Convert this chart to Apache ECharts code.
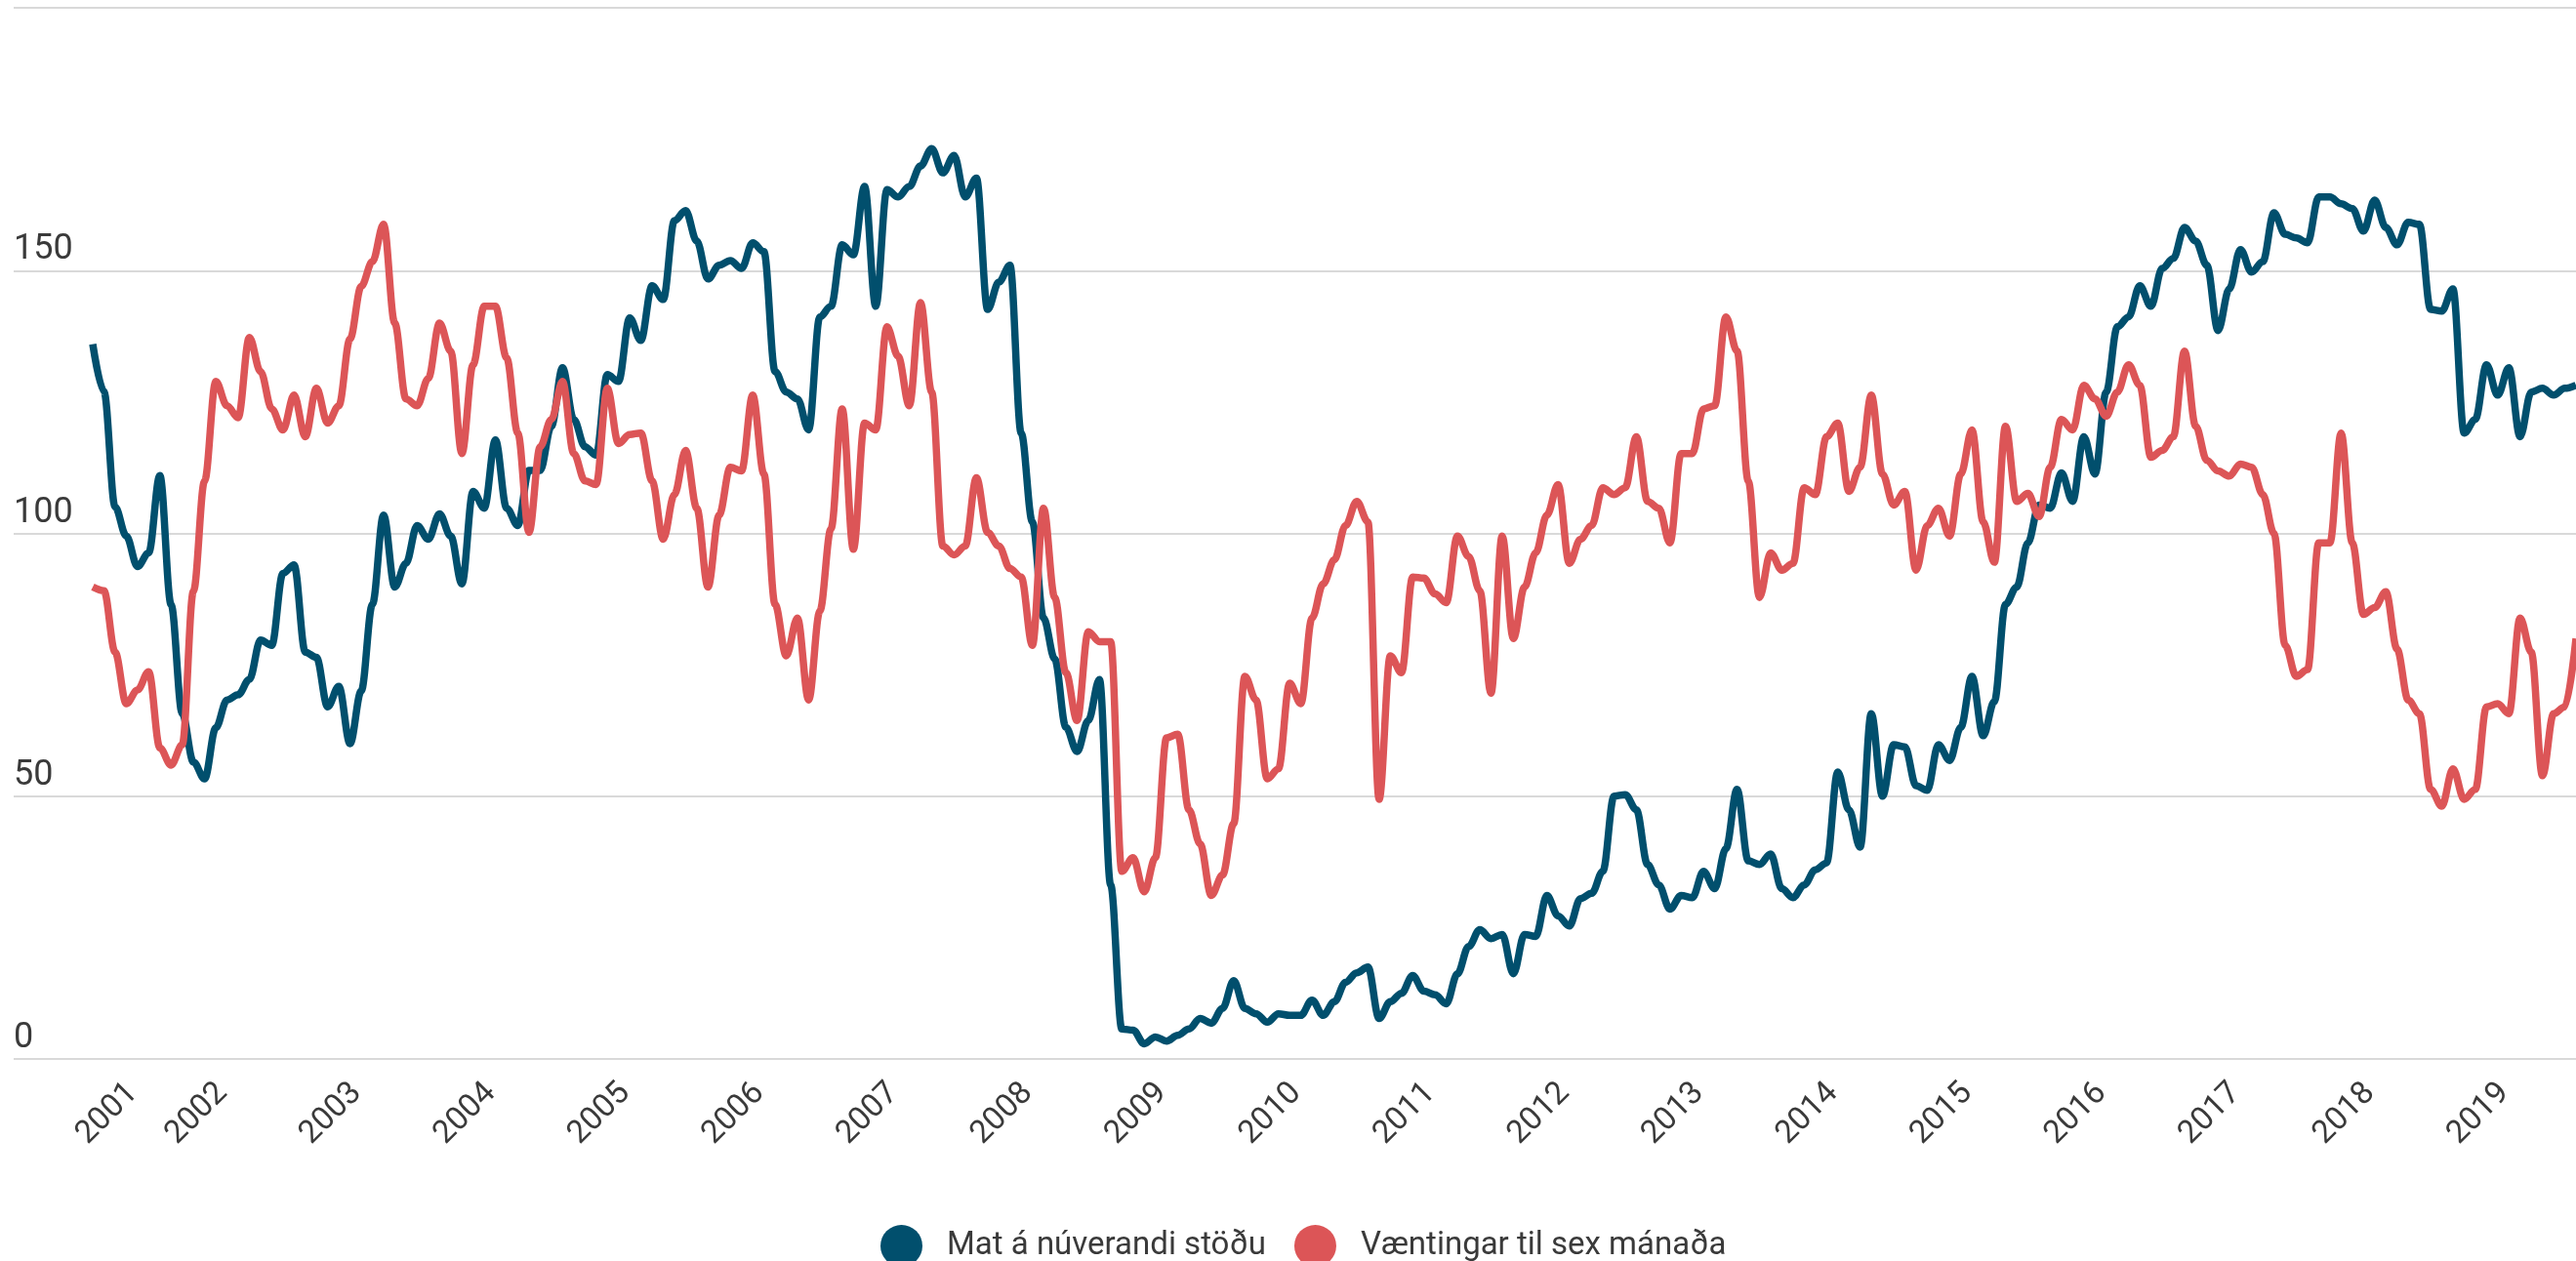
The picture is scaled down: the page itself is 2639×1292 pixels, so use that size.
<!DOCTYPE html>
<html>
<head>
<meta charset="utf-8">
<script src="https://cdn.jsdelivr.net/npm/echarts@6/dist/echarts.min.js"></script>
<style>
  html, body { margin: 0; padding: 0; background: #fff; }
  #chart { width: 2639px; height: 1292px; }
</style>
</head>
<body>
<div id="chart"></div>
<script>
// mánaðarleg gildi, fyrsti mánuður feb 2001
const firstYear = 2001;
const firstMonth = 2;

const matNuverandi = [
  136, 127, 105, 99.5, 93.7, 96.3, 111, 86.5, 65.7, 56.5, 53.3, 63, 68.3, 69.3, 72.2, 79.7, 78.7, 92.4, 94, 77.4, 76.4, 67, 70.9, 60, 70,
  86.5, 103.5, 89.8, 94.3, 101.5, 98.9, 103.7, 99.5, 90.4, 108, 104.8, 117.8, 104.8, 101.5, 112, 112, 120.4, 131.5, 121.7, 116.5, 114.9, 130.2, 128.9, 141,
  136.7, 147.1, 144.5, 159.5, 161.4, 155.6, 148.4, 151, 151.9, 150.4, 155.3, 153.6, 130.8, 126.9, 125.6, 119.7, 141.2, 143.2, 154.9, 153, 166, 143.2, 165.4, 164,
  166, 169.9, 173.2, 168.6, 171.9, 164, 167.6, 142.6, 147.8, 151, 119.1, 102.2, 83.9, 76.1, 63.1, 58.5, 64.4, 72.2, 33.1, 5.7, 5.5, 2.9, 4.2, 3.4, 4.5,
  5.7, 7.7, 6.8, 9.6, 14.9, 9.6, 8.6, 7, 8.6, 8.3, 8.3, 11.2, 8.3, 10.9, 14.6, 16.4, 17.5, 7.7, 10.9, 12.5, 15.9, 12.9, 12.2, 10.5,
  16.2, 21.4, 24.6, 22.9, 23.7, 16.2, 23.7, 23.3, 31.1, 27.2, 25.3, 30.5, 31.5, 35.7, 50, 50.3, 47.4, 37, 33.1, 28.5, 31.1, 30.7, 35.7, 32.4, 40,
  51.3, 37.7, 37, 39, 32.4, 30.7, 33.1, 36, 37.3, 54.6, 47.4, 40.3, 65.7, 50, 59.8, 59.4, 52, 51.1, 59.8, 56.8, 63.1, 72.8, 61.5, 68,
  86.5, 89.8, 98.2, 105.4, 104.8, 111.5, 106.1, 118.4, 111.3, 126.9, 139.3, 141.2, 147.1, 143.2, 150.4, 152.3, 158.2, 155.6, 151, 138.6, 146.5, 154, 149.7, 151.7, 161,
  156.9, 156.2, 155.3, 164, 164, 162.7, 161.8, 157.5, 163.4, 158.2, 154.9, 159.2, 158.8, 142.6, 142.3, 146.5, 119.1, 121.7, 132.1, 126.3, 131.5, 118.4, 126.9, 127.6, 126.3, 127.6, 128.2
];

const vaentingar = [
  89.8, 89.1, 77.4, 67.6, 70.2, 73.7, 59.2, 55.9, 59.8, 89, 110, 128.9, 124.3, 122, 137.3, 130.8, 123.7, 119.7, 126.3, 118.4, 127.6, 121, 124.3, 137, 147,
  151.7, 158.8, 140, 125.6, 124.3, 129.5, 140, 134.7, 115.2, 132.1, 143.2, 143.2, 133.4, 119.1, 100.2, 116.5, 121.7, 128.9, 115.2, 110, 109.3, 127.6, 117.1, 118.8,
  119.1, 110, 98.9, 107.4, 115.8, 104.8, 89.8, 103.5, 112.6, 111.9, 126.3, 111.3, 86.5, 76.7, 83.9, 68.3, 85.2, 100.9, 123.7, 97, 121, 119.7, 139.3, 133.7,
  124.3, 143.9, 126.9, 97.6, 95.9, 97.6, 110.6, 100.2, 97.6, 93.3, 91.7, 78.7, 104.8, 87.8, 73.5, 64.4, 81.3, 79.4, 79.4, 35.7, 38.3, 31.8, 38.3, 61.1, 61.8,
  47.4, 40.9, 31.1, 35, 44.8, 72.8, 68.3, 53.3, 55.2, 71.5, 67.6, 83.9, 90.4, 95, 101.5, 106.1, 102.2, 49.4, 76.7, 73.5, 91.7, 91.5, 88.5, 86.8,
  99.5, 95.6, 89.1, 69.6, 99.5, 80, 89.8, 96.3, 103.5, 109.3, 94.3, 98.9, 101.5, 108.7, 107.4, 108.7, 118.4, 106.1, 104.8, 98.2, 115.2, 115.2, 123.7, 124.3, 141.2,
  134.7, 110, 87.8, 96.3, 93, 94.3, 108.7, 107.4, 118.4, 121, 108, 112.6, 126.3, 111.3, 105.4, 108, 93, 101.5, 104.8, 99.5, 111.3, 119.7, 102.2, 94.5,
  120.4, 106.1, 107.6, 103.2, 112.6, 121.7, 119.7, 128.2, 125.6, 122.3, 126.9, 132.1, 128.2, 114.5, 115.8, 118.4, 134.7, 120.4, 113.9, 111.9, 110.9, 113.2, 112.6, 107.4, 100,
  78.7, 72.8, 74.1, 98.2, 98.2, 119.1, 98.2, 84.6, 85.9, 88.9, 78, 68.3, 65.7, 51.3, 48.1, 55.2, 49.4, 51.3, 67, 67.6, 65.7, 83.9, 77.4, 53.9, 65.7, 67, 80
];

const years = [2001, 2002, 2003, 2004, 2005, 2006, 2007, 2008, 2009, 2010, 2011, 2012, 2013, 2014, 2015, 2016, 2017, 2018, 2019];
const yTicks = [0, 50, 100, 150, 200];

// mánaðarheiti fyrir x-ás (stak i = mánuður nr. i)
const months = matNuverandi.map((v, i) => {
  const d = new Date(firstYear, firstMonth - 1 + i, 1);
  return d.getFullYear() + "-" + String(d.getMonth() + 1).padStart(2, "0");
});

// staðsetning ársmerkja: jan hvers árs, fyrsta árið aðeins inn í gögnin
const labelShift = 0.6;
const yearPos = years.map((y) => {
  const idx = months.indexOf(y + "-01");
  return (idx >= 0 ? idx : 3) + labelShift;
});

const blue = "#014f6d";
const red = "#dc5557";
const font = "Roboto";

const chart = echarts.init(document.getElementById("chart"));

const option = {
  backgroundColor: "#ffffff",
  animation: false,
  textStyle: { fontFamily: font },
  grid: {
    left: 14,
    right: 0,
    top: 8,
    bottom: 207,
  },
  legend: {
    left: 897,
    top: 1250,
    icon: "circle",
    itemWidth: 43,
    itemHeight: 43,
    itemGap: 29,
    textStyle: {
      fontFamily: font,
      fontSize: 33,
      color: "#3a3a3a",
      padding: [0, 0, 0, 20],
    },
    data: ["Mat á núverandi stöðu", "Væntingar til sex mánaða"],
  },
  xAxis: {
    type: "value",
    min: -7.07,
    max: months.length - 1,
    axisLine: { show: false },
    axisTick: { show: false },
    splitLine: { show: false },
    axisLabel: {
      customValues: yearPos,
      rotate: 45,
      margin: 30,
      fontSize: 33,
      color: "#3a3a3a",
      fontFamily: font,
      formatter: (val) => {
        const k = yearPos.indexOf(val);
        return k >= 0 ? String(years[k]) : "";
      },
    },
  },
  yAxis: {
    type: "value",
    min: yTicks[0],
    max: yTicks[yTicks.length - 1],
    interval: 50,
    axisLine: { show: false },
    axisTick: { show: false },
    splitLine: {
      lineStyle: { color: "#d9d9d9", width: 2 },
    },
    axisLabel: {
      inside: true,
      margin: 0,
      align: "left",
      verticalAlign: "bottom",
      padding: [0, 0, 3, 0],
      fontSize: 36,
      color: "#3a3a3a",
      fontFamily: font,
      formatter: (v) => (v === 200 ? "" : String(v)),
    },
  },
  series: [
    {
      name: "Mat á núverandi stöðu",
      type: "line",
      data: matNuverandi.map((v, i) => [i, v]),
      showSymbol: false,
      smooth: 0.35,
      smoothMonotone: "x",
      lineStyle: { color: blue, width: 7.5 },
      itemStyle: { color: blue },
      clip: true,
    },
    {
      name: "Væntingar til sex mánaða",
      type: "line",
      data: vaentingar.map((v, i) => [i, v]),
      showSymbol: false,
      smooth: 0.35,
      smoothMonotone: "x",
      lineStyle: { color: red, width: 7.5 },
      itemStyle: { color: red },
      clip: true,
    },
  ],
};

chart.setOption(option);
</script>
</body>
</html>
